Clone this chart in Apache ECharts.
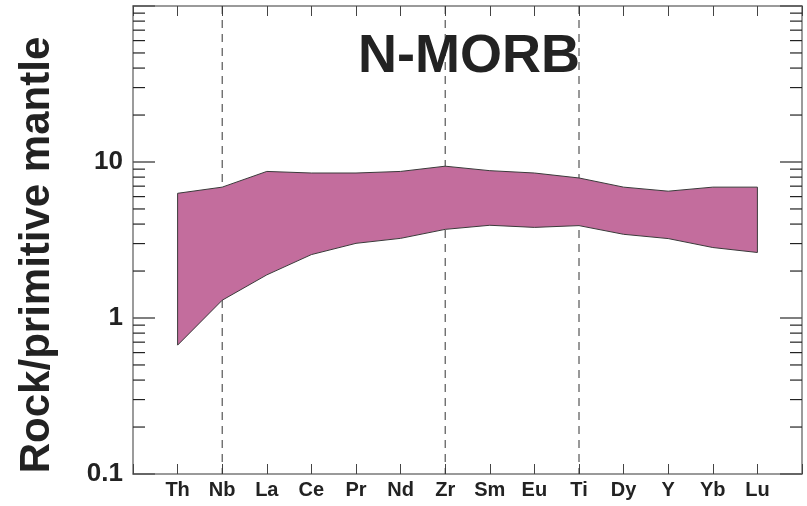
<!DOCTYPE html>
<html>
<head>
<meta charset="utf-8">
<script src="https://cdn.jsdelivr.net/npm/echarts@6/dist/echarts.min.js"></script>
<style>
  html, body { margin: 0; padding: 0; background: #fff; }
  #chart { width: 807px; height: 506px; }
</style>
</head>
<body>
<div id="chart"></div>
<script>
// Trace elements, normalised to primitive mantle
const elements = ['Th', 'Nb', 'La', 'Ce', 'Pr', 'Nd', 'Zr', 'Sm', 'Eu', 'Ti', 'Dy', 'Y', 'Yb', 'Lu'];
// Upper and lower envelope of the N-MORB field
const upperEnvelope = [6.3, 6.9, 8.7, 8.5, 8.5, 8.7, 9.4, 8.8, 8.5, 7.9, 6.9, 6.5, 6.9, 6.9];
const lowerEnvelope = [0.67, 1.30, 1.89, 2.55, 3.01, 3.24, 3.70, 3.93, 3.81, 3.91, 3.44, 3.23, 2.83, 2.63];
// Reference lines through selected elements
const dashedElements = ['Nb', 'Zr', 'Ti'];
// Log axis labels
const yTickLabels = { '-1': '0.1', '0': '1', '1': '10' };
const yMin = 0.1, yMax = 100;
// Minor tick values between the decades
const minorTickValues = [];
[0.1, 1, 10].forEach(function (d) {
  for (let k = 2; k <= 9; k++) minorTickValues.push(+(d * k).toPrecision(3));
});

// Padded category list: one empty slot at each end
const categories = [''].concat(elements, ['']);

const FONT = "'Liberation Sans', Arial, Helvetica, sans-serif";
const TEXT = '#222';
const AXIS_LINE = { show: true, lineStyle: { color: '#7a7a7a', width: 1.5 } };

const chart = echarts.init(document.getElementById('chart'), null, { renderer: 'canvas' });

chart.setOption({
  animation: false,
  backgroundColor: '#fff',
  title: {
    text: 'N-MORB',
    left: 469,
    top: 30,
    textAlign: 'center',
    padding: 0,
    textStyle: { fontFamily: FONT, fontWeight: 'bold', fontSize: 54, color: TEXT, lineHeight: 54 }
  },
  graphic: [{
    type: 'text',
    x: 37,
    y: 255,
    rotation: Math.PI / 2,
    style: {
      text: 'Rock/primitive mantle',
      fontFamily: FONT,
      fontWeight: 'bold',
      fontSize: 42,
      fill: TEXT,
      align: 'center',
      verticalAlign: 'middle'
    }
  }],
  grid: { left: 133, right: 5, top: 6, bottom: 32, containLabel: false },
  xAxis: [{
    type: 'category',
    data: categories,
    boundaryGap: false,
    position: 'bottom',
    axisLine: AXIS_LINE,
    axisTick: { show: true, inside: true, length: 10, interval: 0, lineStyle: { color: '#444', width: 1 } },
    axisLabel: { interval: 0, margin: 6, fontFamily: FONT, fontWeight: 'bold', fontSize: 20, color: TEXT },
    splitLine: { show: false }
  }, {
    type: 'category',
    data: categories,
    boundaryGap: false,
    position: 'top',
    axisLine: AXIS_LINE,
    axisTick: { show: true, inside: true, length: 10, interval: 0, lineStyle: { color: '#444', width: 1 } },
    axisLabel: { show: false },
    splitLine: { show: false }
  }],
  yAxis: [{
    type: 'log',
    logBase: 10,
    min: yMin,
    max: yMax,
    position: 'left',
    axisLine: AXIS_LINE,
    axisTick: { show: true, inside: true, length: 22, lineStyle: { color: '#555', width: 1.5 } },
    axisLabel: {
      margin: 10,
      fontFamily: FONT, fontWeight: 'bold', fontSize: 26, color: TEXT,
      formatter: function (v) {
        const e = String(Math.round(Math.log10(v)));
        return yTickLabels[e] !== undefined ? yTickLabels[e] : '';
      }
    },
    splitLine: { show: false }
  }, {
    type: 'log',
    logBase: 10,
    min: yMin,
    max: yMax,
    position: 'right',
    axisLine: AXIS_LINE,
    axisTick: { show: true, inside: true, length: 22, lineStyle: { color: '#555', width: 1.5 } },
    axisLabel: { show: false },
    splitLine: { show: false }
  }],
  series: [
    {
      // Dashed vertical guides
      type: 'custom',
      xAxisIndex: 0,
      yAxisIndex: 0,
      z: 1,
      silent: true,
      data: dashedElements.map(function (el) { return [categories.indexOf(el), yMin]; }),
      renderItem: function (params, api) {
        const cs = params.coordSys;
        const x = api.coord([api.value(0), yMin])[0];
        return {
          type: 'line',
          shape: { x1: x, y1: cs.y, x2: x, y2: cs.y + cs.height },
          style: { stroke: '#333', lineWidth: 1, lineDash: [8, 6] }
        };
      }
    },
    {
      // N-MORB field between the two envelopes
      type: 'custom',
      xAxisIndex: 0,
      yAxisIndex: 0,
      z: 3,
      silent: true,
      data: [[1, upperEnvelope[0]]],
      renderItem: function (params, api) {
        const pts = [];
        for (let i = 0; i < elements.length; i++) {
          pts.push(api.coord([categories.indexOf(elements[i]), upperEnvelope[i]]));
        }
        for (let i = elements.length - 1; i >= 0; i--) {
          pts.push(api.coord([categories.indexOf(elements[i]), lowerEnvelope[i]]));
        }
        return {
          type: 'polygon',
          shape: { points: pts },
          style: { fill: '#c36d9d', stroke: '#3a3a3a', lineWidth: 1 }
        };
      }
    },
    {
      // Minor log ticks on the left and right frame
      type: 'custom',
      xAxisIndex: 0,
      yAxisIndex: 0,
      z: 4,
      silent: true,
      data: minorTickValues.map(function (v) { return [0, v]; }),
      renderItem: function (params, api) {
        const cs = params.coordSys;
        const y = api.coord([0, api.value(1)])[1];
        const style = { stroke: '#222', lineWidth: 1.2 };
        return {
          type: 'group',
          children: [
            { type: 'line', shape: { x1: cs.x, y1: y, x2: cs.x + 12, y2: y }, style: style },
            { type: 'line', shape: { x1: cs.x + cs.width - 12, y1: y, x2: cs.x + cs.width, y2: y }, style: style }
          ]
        };
      }
    }
  ]
});
</script>
</body>
</html>
